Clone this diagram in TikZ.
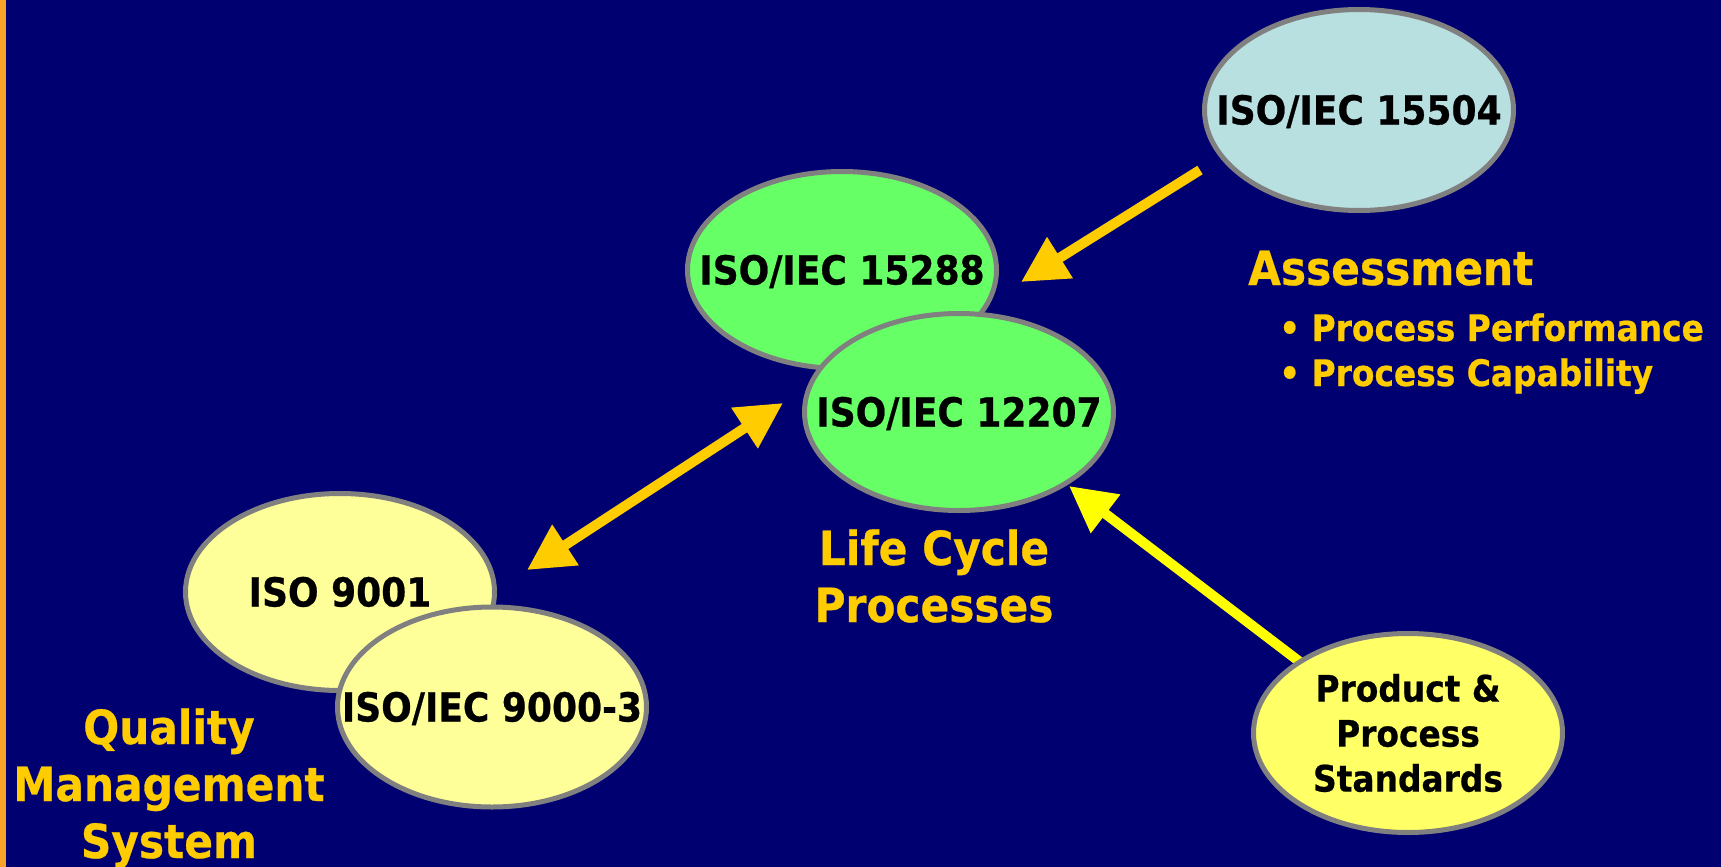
\documentclass[tikz,border=0pt]{standalone}
\usepackage{fontspec}
\usetikzlibrary{shapes.geometric,arrows.meta}
\setmainfont{DejaVu Sans}
\newfontfamily\lblfont{DejaVu Sans}[FakeStretch=0.9,FakeBold=0.6]

\definecolor{bgnavy}{RGB}{0,0,112}
\definecolor{stripe}{RGB}{247,163,41}
\definecolor{gold}{RGB}{255,204,0}
\definecolor{brightyellow}{RGB}{255,255,0}
\definecolor{rim}{RGB}{128,128,128}
\definecolor{paleblue}{RGB}{184,224,225}
\definecolor{lightgreen}{RGB}{102,255,102}
\definecolor{paleyellow}{RGB}{255,255,153}
\definecolor{sunyellow}{RGB}{255,255,102}

% oval whose size is set by its minimum width/height only; the label is a
% zero-width box so it never widens the ellipse
\newcommand\ovaltext[1]{\makebox[0pt]{#1}}

\tikzset{
  stdoval/.style={ellipse, draw=rim, line width=5pt, inner sep=0pt,
    minimum width=309pt, minimum height=197pt, text=black,
    font=\lblfont\bfseries\fontsize{40}{45}\selectfont,
    text height=29pt, text depth=0pt},
  heading/.style={text=gold, inner sep=0pt,
    font=\lblfont\bfseries\fontsize{47}{57}\selectfont},
  bullet/.style={text=gold, inner sep=0pt, anchor=base west,
    font=\lblfont\bfseries\fontsize{36.5}{45}\selectfont},
  fatarrow/.style={line width=10pt, draw=gold,
    -{Triangle[length=46pt,width=46pt]}},
}

\begin{document}
\begin{tikzpicture}[x=1pt,y=-1pt]
\useasboundingbox (0,0) rectangle (1721,867);
% backdrop and left edge band
\fill[bgnavy] (0,0) rectangle (1721,867);
\fill[stripe] (0,0) rectangle (6,867);

% arrow end points
\coordinate (asmtail) at (1200,170);
\coordinate (asmtip)  at (1021,282);
\coordinate (qmstip)  at (527,570);
\coordinate (lcptip)  at (783,403);
\coordinate (ppstail) at (1300,662);
\coordinate (ppstip)  at (1069,486);

% connectors (drawn first so the ovals sit on top of their tails)
\draw[fatarrow] (asmtail) -- (asmtip);
\draw[line width=10pt, draw=gold,
  {Triangle[length=46pt,width=46pt]}-{Triangle[length=46pt,width=46pt]}]
  (qmstip) -- (lcptip);
\draw[fatarrow, draw=brightyellow] (ppstail) -- (ppstip);

% standards
\node[stdoval, fill=paleblue, minimum height=201pt]
  (iso15504) at (1359,110) {\ovaltext{ISO/IEC 15504}};
\node[stdoval, fill=lightgreen] (iso15288) at (842,270) {\ovaltext{ISO/IEC 15288}};
\node[stdoval, fill=lightgreen] (iso12207) at (959,412) {\ovaltext{ISO/IEC 12207}};
\node[stdoval, fill=paleyellow] (iso9001) at (340,592) {\ovaltext{ISO 9001}};
\node[stdoval, fill=paleyellow, minimum height=200pt]
  (iso90003) at (492,707) {\ovaltext{ISO/IEC 9000-3}};
\node[stdoval, fill=sunyellow, minimum height=199pt] (pps) at (1408,733) {};
\node[inner sep=0pt, align=center, text=black,
  font=\lblfont\bfseries\fontsize{36.5}{45}\selectfont]
  (ppstext) at (pps.center) {Product \&\\Process\\Standards};

% group captions
\node[heading, anchor=base west] (asm) at (1248,285) {Assessment};
\node[bullet] (perf) at (1279,341) {• Process Performance};
\node[bullet] (capa) at (1279,386) {• Process Capability};
\node[heading, anchor=base, align=center] (lcp) at (934,622)
  {Life Cycle\\Processes};
\node[heading, anchor=base, align=center] (qms) at (169,858)
  {Quality\\Management\\System};
\end{tikzpicture}
\end{document}
